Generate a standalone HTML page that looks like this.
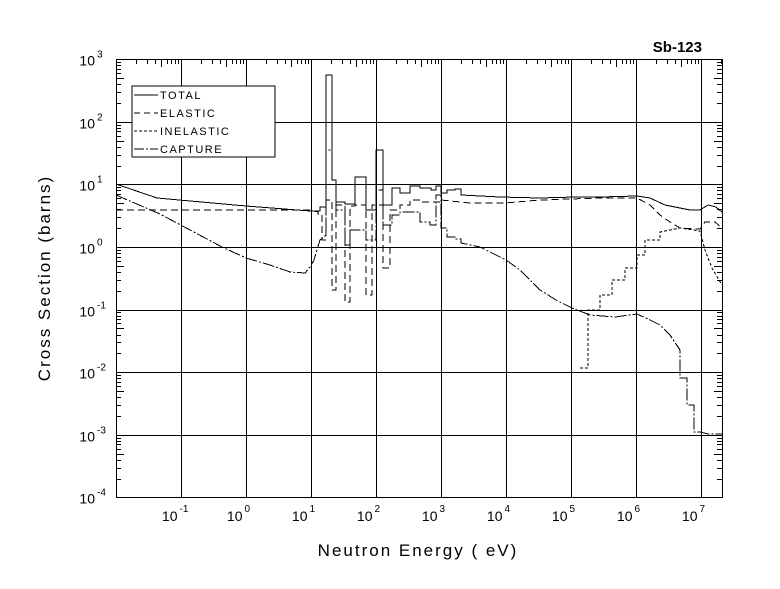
<!DOCTYPE html><html><head><style>body{margin:0;background:#fff}svg{display:block}</style></head><body>
<svg id="s" width="780" height="589" xmlns="http://www.w3.org/2000/svg" font-family="Liberation Sans, sans-serif">
<rect width="780" height="589" fill="#fff"/>
<g id="g" stroke="#000" stroke-width="1" fill="none" shape-rendering="crispEdges"></g>
<text x="702" y="52" font-size="15" font-weight="bold" text-anchor="end">Sb-123</text>
<text x="418" y="556" font-size="17" text-anchor="middle" letter-spacing="2">Neutron Energy ( eV)</text>
<text transform="translate(50,278) rotate(-90)" font-size="17" text-anchor="middle" letter-spacing="2">Cross Section (barns)</text>
<g id="t" font-size="14"></g>
<rect x="132" y="86" width="143" height="71" fill="#fff" stroke="#000" shape-rendering="crispEdges"/>
<g font-size="11" letter-spacing="1.5" shape-rendering="crispEdges">
<line x1="134" y1="95" x2="158" y2="95" stroke="#000"/><text x="160" y="99">TOTAL</text>
<line x1="134" y1="113" x2="158" y2="113" stroke="#000" stroke-dasharray="6,4"/><text x="160" y="117">ELASTIC</text>
<line x1="134" y1="131" x2="158" y2="131" stroke="#000" stroke-dasharray="3,2"/><text x="160" y="135">INELASTIC</text>
<line x1="134" y1="149" x2="158" y2="149" stroke="#000" stroke-dasharray="10,2,2,2"/><text x="160" y="153">CAPTURE</text>
</g>
</svg>
<script>
var g=document.getElementById('g'),t=document.getElementById('t'),NS='http://www.w3.org/2000/svg';
function el(p,tag,a){var e=document.createElementNS(NS,tag);for(var k in a)e.setAttribute(k,a[k]);p.appendChild(e);return e;}
var L=116,R=722,T=59,B=497;
function X(l){return Math.round(116+65*(l+2))+0.5;} function Y(l){return Math.round(247-62.6*l)+0.5;}
el(g,'rect',{x:L+0.5,y:T+0.5,width:R-L,height:B-T});
for(var d=-1;d<=7;d++){var x=X(d);el(g,'line',{x1:x,y1:T,x2:x,y2:B});
 var tx=el(t,'text',{x:x-4,y:521,'text-anchor':'end'});tx.textContent='10';var s=el(t,'text',{x:x-2,y:512,'font-size':10});s.textContent=d;}
for(var d=-2;d<=7;d++)for(var m=2;m<10;m++){var x=X(d+Math.log10(m));if(x>L&&x<R){el(g,'line',{x1:x,y1:T,x2:x,y2:T+(m==5?8:5)});}}
for(var d=-4;d<=3;d++){var y=Y(d);if(d>-4&&d<3)el(g,'line',{x1:L,y1:y,x2:R,y2:y});
 var tx=el(t,'text',{x:95,y:y+6,'text-anchor':'end'});tx.textContent='10';var s=el(t,'text',{x:97,y:y-2,'font-size':10});s.textContent=d;
 if(d<3)for(var m=2;m<10;m++){var y2=Y(d+Math.log10(m));el(g,'line',{x1:L,y1:y2,x2:L+(m==5?8:5),y2:y2});el(g,'line',{x1:R,y1:y2,x2:R-(m==5?8:5),y2:y2});}}
function P(pts,da){el(g,'polyline',{points:pts,'stroke-dasharray':da||'none'});}
P("116,184 157,198 246,206 310,211 320,211 320,207 326,207 326,75 332,75 332,180 336,180 336,202 345,202 345,204 355,204 355,177 366,177 366,210 376,210 376,150 383,150 383,205 392,205 392,188 400,188 400,193 410,193 410,186 420,186 420,188 431,188 431,190 436,190 436,186 441,186 441,193 447,193 447,190 455,190 455,189 461,189 461,195 500,197 540,198 575,197 600,197 637,196 650,198 665,205 680,208 690,210 700,210 708,205 716,207 722,212");
P("116,210 310,210 318,212 318,214 322,214 322,240 326,240 326,200 332,200 332,290 336,290 336,205 345,205 345,302 350,302 350,206 355,206 355,205 366,205 366,295 372,295 372,205 383,205 383,268 390,268 390,210 400,210 400,205 410,205 410,200 420,200 420,202 441,202 441,200 470,203 505,203 540,200 600,198 637,198 650,205 660,215 670,222 680,228 700,229 705,222 715,222 722,228","7,4");
P("580,368 588,368 588,310 600,310 600,295 612,295 612,280 625,280 625,268 637,268 637,255 645,255 645,240 660,240 660,232 680,228 700,231 705,250 712,268 722,285","3,2");
P("116,195 160,214 222,247 246,258 270,265 290,272 305,273 310,267 314,260 320,240 326,235 326,150 332,150 332,180 336,180 336,210 345,210 345,245 350,245 350,230 366,230 366,240 376,240 376,190 383,190 383,225 392,225 392,215 400,215 400,212 420,212 420,222 430,222 430,225 436,225 436,195 441,195 441,228 447,228 447,237 455,237 455,239 461,239 461,243 480,247 506,260 520,270 540,290 556,300 572,308 590,315 615,317 637,314 650,320 660,325 670,335 680,350 680,378 687,378 687,405 694,405 694,432 700,432 708,434 722,434","12,2,2,2");
</script>
</body></html>
